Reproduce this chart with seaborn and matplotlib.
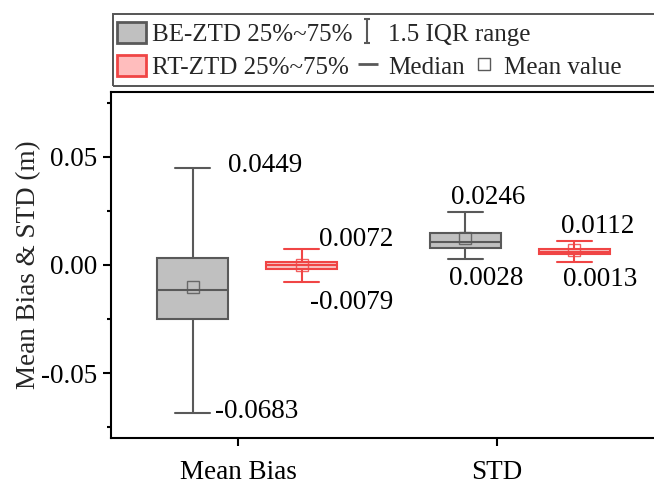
import numpy as np
import pandas as pd
import matplotlib
matplotlib.use('Agg')
import matplotlib.pyplot as plt
import seaborn as sns
from matplotlib.lines import Line2D
from matplotlib.patches import Patch, Rectangle
from matplotlib.path import Path
from matplotlib.ticker import MultipleLocator

# ---------------- data ----------------
categories = ['Mean Bias', 'STD']
series = ['BE-ZTD', 'RT-ZTD']
# five-number summaries (whisker low, Q1, median, Q3, whisker high) and means
be_low = [-0.0683, 0.0028]
be_q1 = [-0.0252, 0.0077]
be_med = [-0.0115, 0.0105]
be_q3 = [0.0031, 0.0146]
be_high = [0.0449, 0.0246]
be_mean = [-0.0100, 0.0123]
rt_low = [-0.0079, 0.0013]
rt_q1 = [-0.0019, 0.0051]
rt_med = [-0.0002, 0.0062]
rt_q3 = [0.0015, 0.0075]
rt_high = [0.0072, 0.0112]
rt_mean = [0.0000, 0.0068]
ytick_vals = [-0.05, 0.0, 0.05]
ytick_labels = ['-0.05', '0.00', '0.05']
legend_labels = ['BE-ZTD 25%~75%', '1.5 IQR range', 'RT-ZTD 25%~75%', 'Median', 'Mean value']

summ = {
    'BE-ZTD': [be_low, be_q1, be_med, be_q3, be_high],
    'RT-ZTD': [rt_low, rt_q1, rt_med, rt_q3, rt_high],
}
means = {'BE-ZTD': be_mean, 'RT-ZTD': rt_mean}
rows = []
for s in series:
    for ci, c in enumerate(categories):
        for arr in summ[s]:
            rows.append({'series': s, 'category': c, 'value': arr[ci]})
df = pd.DataFrame(rows)

# ---------------- style ----------------
face = {'BE-ZTD': '#c0c0c0', 'RT-ZTD': '#ffbdbd'}
edge = {'BE-ZTD': '#595959', 'RT-ZTD': '#f04545'}
FS = 19.5
LFS = 18

sns.set_style('ticks')
plt.rcParams['font.family'] = ['Liberation Serif', 'DejaVu Serif']
plt.rcParams['axes.unicode_minus'] = False

fig = plt.figure(figsize=(6.54, 4.84), dpi=100)
W, H = 654, 484
ax = fig.add_axes([111 / W, 46 / H, 545 / W, 346 / H])

for s in series:
    sns.boxplot(data=df[df['series'] == s], x='category', y='value', hue='series',
                hue_order=series, order=categories, palette=face, dodge=True,
                width=0.8, gap=0.35, whis=(0, 100), linecolor=edge[s],
                linewidth=1.5, legend=False, ax=ax)

offsets = {'BE-ZTD': -0.2, 'RT-ZTD': 0.2}
for s in series:
    xs = [i + offsets[s] for i in range(len(categories))]
    ax.plot(xs, means[s], linestyle='none', marker='s', ms=8.5, mfc='none',
            mec=edge[s], mew=1.0, alpha=0.85, zorder=5)

# value annotations (pixel offsets from whisker ends)
ann_offsets = {
    ('BE-ZTD', 0, 'high'): (35, 2), ('BE-ZTD', 0, 'low'): (22, 1),
    ('RT-ZTD', 0, 'high'): (17, 10), ('RT-ZTD', 0, 'low'): (8, -20),
    ('BE-ZTD', 1, 'high'): (-14, 14), ('BE-ZTD', 1, 'low'): (-16, -20),
    ('RT-ZTD', 1, 'high'): (-13, 14), ('RT-ZTD', 1, 'low'): (-11, -17),
}
for (s, ci, end), (dx, dy) in ann_offsets.items():
    v = summ[s][4][ci] if end == 'high' else summ[s][0][ci]
    ax.annotate(f'{v:.4f}', xy=(ci + offsets[s], v), xytext=(dx, dy),
                textcoords='offset pixels', ha='left', va='center',
                fontsize=FS, color='black')

ax.set_xlim(-0.5, 1.5)
ax.set_ylim(-0.08, 0.08)
ax.set_xticks([-0.033, 0.915], labels=categories)
ax.set_yticks(ytick_vals, labels=ytick_labels)
ax.yaxis.set_minor_locator(MultipleLocator(0.025))
ax.set_xlabel('')
ax.set_ylabel('Mean Bias & STD (m)', fontsize=FS, labelpad=0)
ax.tick_params(axis='both', which='major', direction='out', length=6, width=1.5,
               labelsize=FS, color='black', labelcolor='black')
ax.tick_params(axis='y', which='minor', direction='out', length=3, width=1.5, color='black')
ax.tick_params(axis='y', which='major', pad=4)
ax.tick_params(axis='x', which='major', pad=9.5)
for sp in ax.spines.values():
    sp.set_color('black')
    sp.set_linewidth(1.5)

# ---------------- legend ----------------
ibar = Path([(-0.13, -0.5), (0.13, -0.5), (0, -0.5), (0, 0.5), (-0.13, 0.5), (0.13, 0.5)],
            [Path.MOVETO, Path.LINETO, Path.MOVETO, Path.LINETO, Path.MOVETO, Path.LINETO])
h_be = Patch(facecolor=face['BE-ZTD'], edgecolor=edge['BE-ZTD'], lw=2)
h_rt = Patch(facecolor=face['RT-ZTD'], edgecolor=edge['RT-ZTD'], lw=2)
h_iqr = Line2D([], [], linestyle='none', marker=ibar, ms=17, mfc='none',
               mec=edge['BE-ZTD'], mew=1.5)
h_med = Line2D([], [], linestyle='none', marker='_', ms=14, mec=edge['BE-ZTD'], mew=2)
h_mean = Line2D([], [], linestyle='none', marker='s', ms=8.5, mfc='none',
                mec=edge['BE-ZTD'], mew=1.0)

common = dict(frameon=False, fontsize=LFS, handlelength=1.16, handleheight=0.92,
              handletextpad=0.24, borderpad=0, borderaxespad=0, loc='center left')
fig.legend([h_be, h_iqr], [legend_labels[0], legend_labels[1]], ncol=2,
           columnspacing=0.0, bbox_to_anchor=(117 / W, 1 - 34 / H), **common)
fig.legend([h_rt, h_med, h_mean], [legend_labels[2], legend_labels[3], legend_labels[4]],
           ncol=3, columnspacing=0.18, bbox_to_anchor=(117 / W, 1 - 67 / H), **common)
fig.add_artist(Rectangle((113 / W, 1 - 86 / H), 0.9, 72 / H, transform=fig.transFigure,
                         fill=False, ec='#555555', lw=1.4))

fig.savefig('out.png', dpi=100)
